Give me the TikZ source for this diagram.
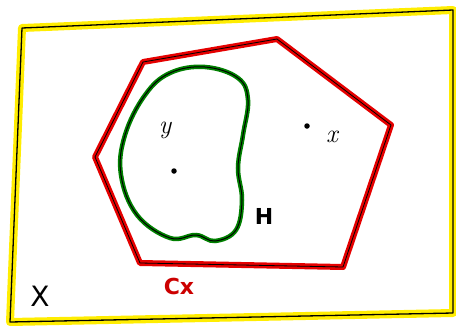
\documentclass[tikz,border=0pt]{standalone}
\usepackage{fontspec}
\setsansfont{DejaVu Sans}
\begin{document}
\begin{tikzpicture}[x=1pt,y=-1pt,
  frame/.style={line join=round},
  hull/.style={line join=round},
  lbl/.style={inner sep=0pt, font=\sffamily},
  pt/.style={circle, fill=black, inner sep=0pt, minimum size=5.5pt}]
\useasboundingbox (0,0) rectangle (456,327);
% points
\coordinate (f1) at (22,28);
\coordinate (f2) at (453,10);
\coordinate (f3) at (453,313);
\coordinate (f4) at (10,322);
\draw[frame, yellow!95!orange, line width=8pt] (f1) -- (f2) -- (f3) -- (f4) -- cycle;
\draw[frame, black, line width=1.3pt] (f1) -- (f2) -- (f3) -- (f4) -- cycle;
% hull
\coordinate (h1) at (143,62);
\coordinate (h2) at (277,39);
\coordinate (h3) at (391,125);
\coordinate (h4) at (343,267);
\coordinate (h5) at (140,263);
\coordinate (h6) at (95,157);
\draw[hull, red!90!black, line width=6pt] (h1) -- (h2) -- (h3) -- (h4) -- (h5) -- (h6) -- cycle;
\draw[hull, black, line width=0.8pt] (h1) -- (h2) -- (h3) -- (h4) -- (h5) -- (h6) -- cycle;
% blob
\def\blobpath{plot[smooth cycle, tension=0.65] coordinates {
  (205,67) (238,78) (248,100) (243,135) (238,168) (242,200) (236,230) (215,241)
  (196,235) (170,238) (137,215) (121,175) (125,135) (145,95) (170,73)}}
\draw[green!50!black, line width=4.5pt] \blobpath;
\draw[black, line width=1pt] \blobpath;
% labels
\node[pt] (py) at (174,171) {};
\node[pt] (px) at (307,126) {};
\node[inner sep=0pt, font=\fontsize{26}{26}\selectfont\itshape] (ly) at (165,130) {y};
\node[inner sep=0pt, font=\fontsize{26}{26}\selectfont\itshape] (lx) at (332,137) {x};
\node[lbl, font=\fontsize{22}{22}\selectfont\sffamily\bfseries] (lH) at (264,216) {H};
\node[lbl, font=\fontsize{22}{22}\selectfont\sffamily\bfseries, text=red!80!black] (lC) at (179,286) {Cx};
\node[lbl, font=\fontsize{28}{28}\selectfont\sffamily] (lX) at (40,296) {X};
\end{tikzpicture}
\end{document}
